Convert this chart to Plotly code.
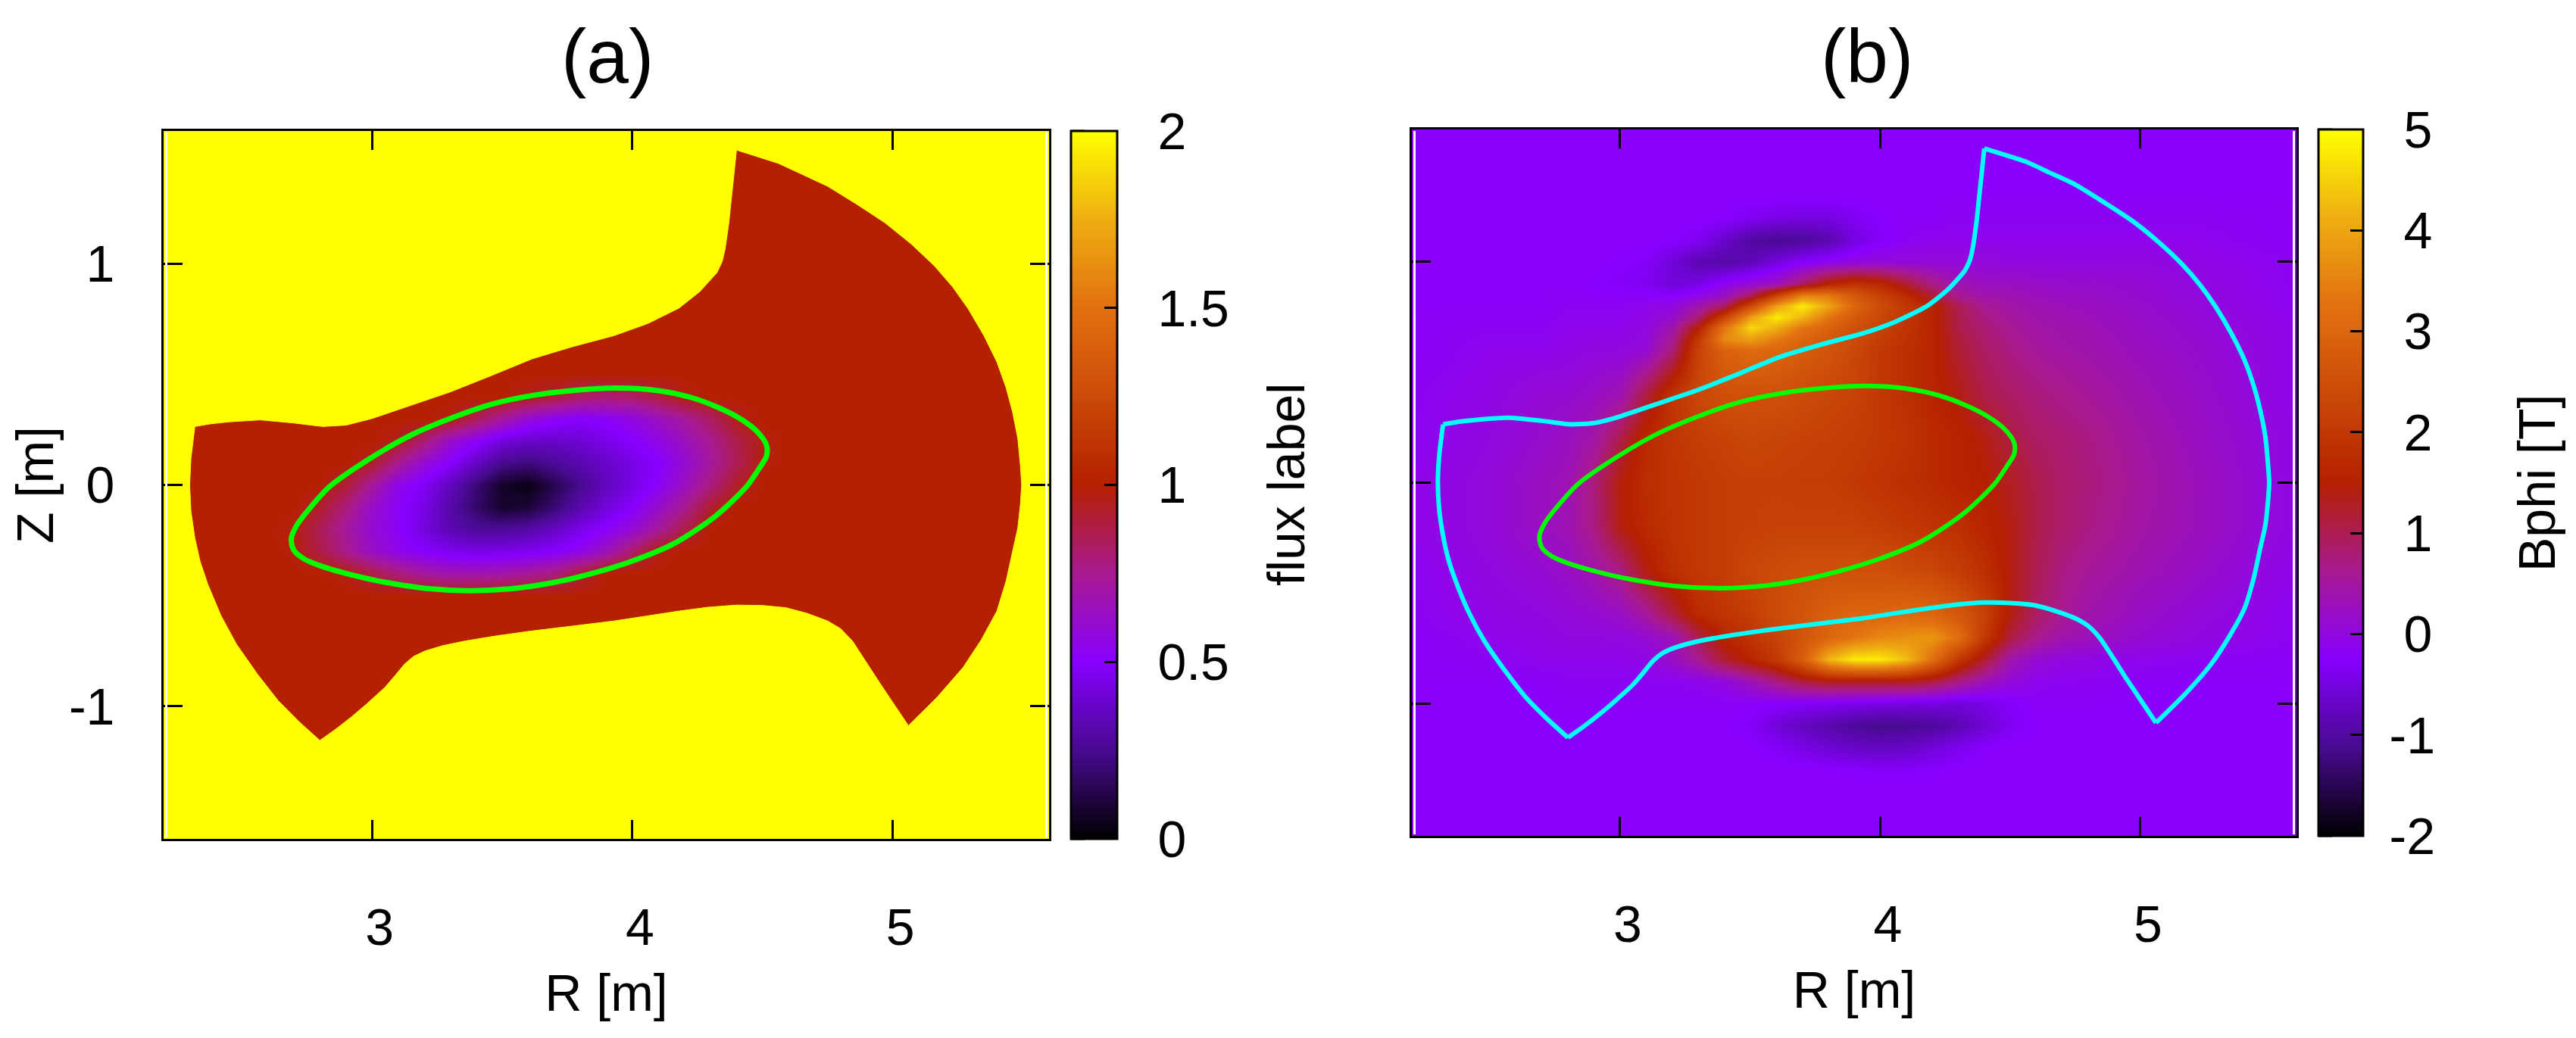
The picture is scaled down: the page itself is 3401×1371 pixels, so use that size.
import plotly.graph_objects as go

W, H = 3401, 1371
PAGE_MARGIN = 8  # default body margin of the written page

R_RANGE = [2.2, 5.6]
Z_RANGE = [-1.6, 1.6]

# flux label, panel (a), rows bottom to top
flux_r = [2.2, 2.6, 2.7, 2.8, 2.9, 3.0, 3.1, 3.2, 3.3, 3.4, 3.5, 3.6, 3.7, 3.8, 3.9,
          4.0, 4.1, 4.2, 4.3, 4.4, 4.5, 4.6, 5.6]
flux_z = [-1.6, -0.5, -0.4, -0.3, -0.2, -0.1, 0, 0.1, 0.2, 0.3, 0.4, 0.5, 1.6]
flux = [
    [1, 1, 1, 1, 1, 1, 1, 1, 1, 1, 1, 1, 1, 1, 1, 1, 1, 1, 1, 1, 1, 1, 1],
    [1, 1, 1, 1, 1, 1, 1, 1, 1, 1, 1, 1, 1, 1, 1, 1, 1, 1, 1, 1, 1, 1, 1],
    [1, 1, 1, 1, .97, .88, .79, .72, .68, .68, .70, .73, .78, .90, 1, 1, 1, 1, 1, 1, 1, 1, 1],
    [1, 1, .98, .88, .75, .63, .55, .50, .46, .44, .45, .47, .50, .55, .66, .82, .97, 1, 1, 1, 1, 1, 1],
    [1, 1, .97, .85, .72, .60, .52, .42, .33, .27, .27, .30, .37, .45, .52, .60, .73, .88, 1, 1, 1, 1, 1],
    [1, 1, 1, .92, .78, .62, .52, .44, .30, .18, .08, .10, .20, .32, .42, .50, .62, .75, .92, 1, 1, 1, 1],
    [1, 1, 1, 1, .90, .72, .55, .47, .35, .20, .07, .03, .14, .25, .35, .44, .52, .65, .78, .93, 1, 1, 1],
    [1, 1, 1, 1, 1, .93, .75, .60, .50, .37, .25, .22, .27, .32, .38, .44, .50, .60, .72, .85, .98, 1, 1],
    [1, 1, 1, 1, 1, 1, .95, .80, .62, .52, .42, .38, .38, .40, .45, .50, .56, .65, .75, .87, .97, 1, 1],
    [1, 1, 1, 1, 1, 1, 1, 1, .97, .85, .72, .60, .53, .50, .52, .57, .65, .73, .83, .95, 1, 1, 1],
    [1, 1, 1, 1, 1, 1, 1, 1, 1, 1, 1, .95, .90, .82, .80, .82, .88, .97, 1, 1, 1, 1, 1],
    [1, 1, 1, 1, 1, 1, 1, 1, 1, 1, 1, 1, 1, 1, 1, 1, 1, 1, 1, 1, 1, 1, 1],
    [1, 1, 1, 1, 1, 1, 1, 1, 1, 1, 1, 1, 1, 1, 1, 1, 1, 1, 1, 1, 1, 1, 1],
]

# Bphi, panel (b), rows bottom to top
bphi_r = [2.2, 2.5, 2.7, 2.8, 2.9, 3.0, 3.1, 3.2, 3.3, 3.4, 3.5, 3.6, 3.7, 3.8, 3.9, 4.0,
          4.1, 4.2, 4.3, 4.4, 4.5, 4.6, 4.7, 4.8, 5.0, 5.2, 5.6]
bphi_z = [-1.6, -1.4, -1.3, -1.2, -1.1, -1.0, -0.9, -0.8, -0.7, -0.6, -0.4, -0.2, 0, 0.2, 0.4,
          0.6, 0.65, 0.7, 0.75, 0.8, 0.85, 0.9, 1.0, 1.1, 1.2, 1.3, 1.4, 1.6]
bphi = [
    [-.2, -.2, -.2, -.2, -.2, -.2, -.2, -.2, -.2, -.2, -.2, -.2, -.2, -.2, -.2, -.2, -.2, -.2, -.2, -.2, -.2, -.2, -.2, -.2, -.2, -.2, -.2],
    [-.2, -.2, -.2, -.2, -.2, -.2, -.2, -.2, -.2, -.2, -.2, -.2, -.2, -.2, -.2, -.2, -.2, -.2, -.2, -.2, -.2, -.2, -.2, -.2, -.2, -.2, -.2],
    [-.2, -.2, -.2, -.2, -.2, -.2, -.2, -.2, -.2, -.2, -.2, -.2, -.2, -.22, -.25, -.28, -.28, -.25, -.2, -.2, -.2, -.2, -.2, -.2, -.2, -.2, -.2],
    [-.2, -.2, -.2, -.2, -.2, -.2, -.2, -.2, -.2, -.2, -.22, -.3, -.45, -.6, -.7, -.75, -.7, -.55, -.4, -.25, -.2, -.2, -.2, -.2, -.2, -.2, -.2],
    [-.2, -.2, -.2, -.2, -.2, -.2, -.2, -.2, -.2, -.22, -.3, -.55, -.75, -.9, -1.05, -1.15, -1.1, -1.05, -.85, -.6, -.35, -.22, -.2, -.2, -.2, -.2, -.2],
    [-.2, -.2, -.2, -.2, -.2, -.2, -.2, -.2, -.2, -.2, -.2, -.25, -.3, -.35, -.4, -.45, -.5, -.5, -.55, -.45, -.3, -.2, -.2, -.2, -.2, -.2, -.2],
    [-.2, -.2, -.2, -.15, -.15, -.15, -.15, -.15, -.1, 0, .3, .7, 1.1, 1.3, 1.3, 1.3, 1.3, 1.1, .7, .3, .05, -.1, -.15, -.15, -.2, -.2, -.2],
    [-.2, -.15, -.1, -.1, -.1, -.1, -.05, .2, .6, 1.2, 1.6, 2.0, 2.8, 4.2, 4.8, 4.8, 4.3, 3.2, 2.0, 1.2, .4, .1, 0, -.05, -.1, -.15, -.2],
    [-.2, -.1, -.05, 0, 0, 0, .1, .3, 1.0, 1.6, 1.9, 2.2, 2.6, 3.0, 3.3, 3.6, 3.7, 3.8, 3.2, 2.0, 1.1, .65, .4, .3, .1, 0, -.15],
    [-.15, -.05, 0, .05, .1, .2, .5, 1.1, 1.7, 1.9, 2.1, 2.4, 2.6, 2.9, 3.0, 3.0, 3.1, 3.0, 2.7, 2.2, 1.4, .9, .6, .4, .2, .05, -.15],
    [-.15, 0, .1, .2, .4, .7, 1.4, 1.8, 2.0, 2.1, 2.3, 2.4, 2.5, 2.5, 2.5, 2.5, 2.4, 2.3, 2.1, 1.8, 1.4, 1.0, .7, .55, .35, .2, -.1],
    [-.1, .05, .25, .35, .7, 1.4, 1.7, 1.9, 2.0, 2.1, 2.15, 2.2, 2.2, 2.2, 2.2, 2.1, 2.0, 1.9, 1.8, 1.6, 1.4, 1.05, .85, .7, .45, .3, -.05],
    [-.1, .05, .25, .35, .75, 1.45, 1.75, 1.9, 2.0, 2.1, 2.15, 2.15, 2.1, 2.1, 2.0, 1.9, 1.8, 1.7, 1.6, 1.5, 1.3, 1.05, .85, .75, .5, .3, -.05],
    [-.15, 0, .15, .25, .45, 1.05, 1.7, 1.95, 2.1, 2.2, 2.3, 2.25, 2.2, 2.15, 2.1, 2.0, 1.9, 1.7, 1.6, 1.4, 1.1, .9, .8, .7, .45, .25, -.05],
    [-.15, -.05, .1, .1, .2, .35, 1.1, 1.9, 2.3, 2.5, 2.5, 2.5, 2.4, 2.3, 2.2, 2.0, 1.8, 1.6, 1.4, 1.05, .9, .75, .65, .55, .35, .2, -.1],
    [-.2, -.1, -.1, -.05, 0, 0, .1, .8, 2.2, 2.9, 3.1, 3.0, 2.8, 2.6, 2.3, 2.0, 1.8, 1.6, 1.2, .9, .7, .55, .45, .4, .25, .15, -.1],
    [-.2, -.12, -.12, -.08, -.05, -.05, .05, .6, 2.0, 3.6, 3.9, 3.4, 3.0, 2.7, 2.4, 2.1, 1.85, 1.6, 1.15, .85, .65, .5, .42, .38, .22, .12, -.1],
    [-.2, -.15, -.15, -.1, -.1, -.1, 0, .4, 1.5, 3.3, 4.6, 4.1, 3.3, 2.9, 2.5, 2.2, 1.9, 1.6, 1.05, .8, .6, .45, .4, .35, .2, .1, -.1],
    [-.2, -.18, -.18, -.12, -.12, -.12, -.05, .15, .8, 2.2, 3.9, 4.8, 4.2, 3.3, 2.7, 2.3, 1.95, 1.6, 1.05, .7, .52, .4, .35, .3, .18, .08, -.12],
    [-.2, -.2, -.2, -.15, -.15, -.15, -.1, 0, .4, .9, 2.4, 3.9, 4.8, 4.0, 3.0, 2.4, 2.0, 1.6, 1.0, .6, .45, .35, .3, .25, .15, .05, -.15],
    [-.2, -.2, -.2, -.18, -.2, -.2, -.2, -.25, -.05, .2, .9, 2.2, 3.5, 3.4, 2.7, 2.2, 1.7, 1.15, .6, .4, .35, .28, .22, .2, .12, .02, -.15],
    [-.2, -.2, -.2, -.2, -.25, -.3, -.35, -.55, -.45, -.1, .1, .3, .9, 1.6, 1.9, 1.7, 1.2, .7, .35, .25, .25, .2, .15, .15, .1, 0, -.15],
    [-.2, -.2, -.2, -.2, -.2, -.25, -.3, -.55, -.85, -.95, -.8, -.5, -.25, -.1, 0, .05, .05, .05, .05, .05, 0, 0, 0, 0, 0, -.05, -.15],
    [-.2, -.2, -.2, -.2, -.2, -.2, -.2, -.25, -.35, -.65, -1.0, -1.1, -1.05, -.9, -.5, -.3, -.15, -.1, -.1, -.1, -.1, -.1, -.1, -.1, -.1, -.1, -.2],
    [-.2, -.2, -.2, -.2, -.2, -.2, -.2, -.2, -.2, -.25, -.35, -.45, -.5, -.5, -.35, -.25, -.2, -.2, -.15, -.15, -.15, -.15, -.15, -.15, -.15, -.15, -.2],
    [-.2, -.2, -.2, -.2, -.2, -.2, -.2, -.2, -.2, -.2, -.2, -.2, -.2, -.2, -.2, -.2, -.2, -.2, -.2, -.2, -.2, -.2, -.2, -.2, -.2, -.2, -.2],
    [-.2, -.2, -.2, -.2, -.2, -.2, -.2, -.2, -.2, -.2, -.2, -.2, -.2, -.2, -.2, -.2, -.2, -.2, -.2, -.2, -.2, -.2, -.2, -.2, -.2, -.2, -.2],
    [-.2, -.2, -.2, -.2, -.2, -.2, -.2, -.2, -.2, -.2, -.2, -.2, -.2, -.2, -.2, -.2, -.2, -.2, -.2, -.2, -.2, -.2, -.2, -.2, -.2, -.2, -.2],
]

# last closed flux surface (green)
sep_r = [2.69, 2.71, 2.765, 2.84, 3.0, 3.15, 3.30, 3.46, 3.62, 3.78, 3.94, 4.09, 4.22, 4.33, 4.42, 4.48, 4.515,
         4.515, 4.49, 4.44, 4.32, 4.16, 4.0, 3.84, 3.68, 3.53, 3.37, 3.21, 3.05, 2.90, 2.80, 2.74, 2.70, 2.69]
sep_z = [-.245, -.185, -.10, -.005, .125, .225, .30, .365, .405, .428, .438, .428, .397, .35, .295, .24, .18,
         .13, .08, -.005, -.14, -.265, -.344, -.402, -.445, -.47, -.478, -.468, -.44, -.40, -.365, -.335, -.295, -.245]

# wall contour, clockwise from the top tip
wall_r = [4.40, 4.48, 4.56, 4.65, 4.75, 4.86, 4.97, 5.07, 5.16, 5.23, 5.29, 5.35, 5.40, 5.435, 5.46, 5.48, 5.49,
          5.495, 5.49, 5.48, 5.46, 5.435, 5.40, 5.34, 5.27, 5.17, 5.06,
          4.95, 4.845, 4.80, 4.75, 4.67, 4.59, 4.50, 4.40, 4.29, 4.18, 4.05, 3.93, 3.77, 3.615, 3.48, 3.36, 3.27,
          3.205, 3.16, 3.125, 3.09, 3.05, 2.98, 2.92, 2.86, 2.80,
          2.72, 2.64, 2.56, 2.48, 2.42, 2.37, 2.34, 2.32, 2.305, 2.30, 2.305, 2.32,
          2.38, 2.45, 2.57, 2.70, 2.81, 2.90, 3.00, 3.15, 3.30, 3.46, 3.615, 3.77, 3.93, 4.06, 4.18, 4.26, 4.325,
          4.345, 4.356, 4.37, 4.38, 4.39, 4.40]
wall_z = [1.514, 1.485, 1.454, 1.405, 1.35, 1.27, 1.185, 1.09, .99, .895, .795, .675, .555, .44, .33, .21, .09,
          0, -.09, -.195, -.30, -.435, -.57, -.70, -.825, -.96, -1.088,
          -.895, -.705, -.65, -.615, -.58, -.555, -.545, -.543, -.553, -.57, -.593, -.615, -.638, -.66, -.682, -.705, -.727,
          -.75, -.775, -.81, -.86, -.915, -.99, -1.05, -1.105, -1.155,
          -1.07, -.975, -.855, -.72, -.59, -.45, -.345, -.24, -.12, 0, .12, .264,
          .276, .285, .294, .28, .264, .27, .30, .36, .42, .495, .57, .625, .675, .73, .80, .875, .96,
          1.01, 1.065, 1.18, 1.29, 1.40, 1.514]
# where the wall contour has a sharp corner
wall_corners = [0, 26, 52, 64, len(wall_r) - 1]

NB = '\u00a0'
flux_ticks = [0, 0.5, 1, 1.5, 2]
flux_labels = [NB * 2 + s for s in ['0', '0.5', '1', '1.5', '2']]
bphi_ticks = [-2, -1, 0, 1, 2, 3, 4, 5]
bphi_labels = [NB + s for s in ['-2', '-1', NB + '0', NB + '1', NB + '2', NB + '3', NB + '4', NB + '5']]

palette = [[0, '#000000'], [0.125, '#480a90'], [0.25, '#8800ff'], [0.375, '#a81a90'],
           [0.5, '#b52000'], [0.625, '#cc4a08'], [0.75, '#e27010'], [0.875, '#efae12'], [1, '#ffff00']]

FONT = 'Liberation Sans'
TICK_SIZE = 68

# pixel boxes of the two panels
box_a = dict(x0=216, x1=1385, y0=173, y1=1108)
box_b = dict(x0=1864, x1=3032, y0=171, y1=1104)
cbar_a = dict(x0=1414, x1=1475)
cbar_b = dict(x0=3061, x1=3120)

FIG_W = W - 2 * PAGE_MARGIN
FIG_H = H - 2 * PAGE_MARGIN


def px(x):
    return (x - PAGE_MARGIN) / FIG_W


def py(y):
    return 1 - (y - PAGE_MARGIN) / FIG_H


def colorbar(box, cb, ticks, labels):
    return dict(
        x=px(cb['x0']), xanchor='left', xpad=0, ypad=0,
        y=py(box['y1']), yanchor='bottom', len=(box['y1'] - box['y0']) / FIG_H,
        thickness=cb['x1'] - cb['x0'], outlinewidth=3, outlinecolor='black',
        tickmode='array', tickvals=ticks, ticktext=labels,
        ticks='inside', ticklen=18, tickwidth=3, tickcolor='black',
        tickfont=dict(family=FONT, size=TICK_SIZE, color='black'),
    )


fig = go.Figure()

fig.add_trace(go.Heatmap(
    x=flux_r, y=flux_z, z=flux, zmin=0, zmax=2, zsmooth='best', colorscale=palette,
    xaxis='x', yaxis='y', colorbar=colorbar(box_a, cbar_a, flux_ticks, flux_labels),
))
# yellow outside the wall, as a frame with the wall contour cut out
fig.add_trace(go.Scatter(
    x=[wall_r[0], R_RANGE[0], R_RANGE[0], R_RANGE[1], R_RANGE[1], wall_r[0]] + wall_r + [wall_r[0]],
    y=[Z_RANGE[1], Z_RANGE[1], Z_RANGE[0], Z_RANGE[0], Z_RANGE[1], Z_RANGE[1]] + wall_z + [Z_RANGE[1]],
    mode='lines', fill='toself', fillcolor='#ffff00', line=dict(color='#ffff00', width=1),
    xaxis='x', yaxis='y', showlegend=False, hoverinfo='skip',
))
fig.add_trace(go.Scatter(
    x=sep_r, y=sep_z, mode='lines', line=dict(color='#00ff00', width=7, shape='spline', smoothing=0.8),
    xaxis='x', yaxis='y', showlegend=False,
))

fig.add_trace(go.Heatmap(
    x=bphi_r, y=bphi_z, z=bphi, zmin=-2, zmax=5, zsmooth='best', colorscale=palette,
    xaxis='x2', yaxis='y2', colorbar=colorbar(box_b, cbar_b, bphi_ticks, bphi_labels),
))
# one trace per limb so the corners stay sharp
for start, end in zip(wall_corners, wall_corners[1:]):
    fig.add_trace(go.Scatter(
        x=wall_r[start:end + 1], y=wall_z[start:end + 1], mode='lines',
        line=dict(color='#00ffff', width=6, shape='spline', smoothing=0.6),
        xaxis='x2', yaxis='y2', showlegend=False,
    ))
fig.add_trace(go.Scatter(
    x=sep_r, y=sep_z, mode='lines', line=dict(color='#00ff00', width=6, shape='spline', smoothing=0.8),
    xaxis='x2', yaxis='y2', showlegend=False,
))

x_common = dict(
    range=R_RANGE, tickvals=[3, 4, 5], ticks='inside', ticklen=25, tickwidth=3, tickcolor='black',
    showline=True, linecolor='black', linewidth=3, mirror='allticks', showgrid=False, zeroline=False,
    tickfont=dict(family=FONT, size=TICK_SIZE, color='black'),
    ticklabelstandoff=55, ticklabelshift=10,
    title=dict(text='R [m]', font=dict(family=FONT, size=TICK_SIZE, color='black'), standoff=27),
)
y_common = dict(
    range=Z_RANGE, tickvals=[-1, 0, 1], ticktext=['-1', '0', '1'], ticks='inside', ticklen=25, tickwidth=3,
    tickcolor='black', showline=True, linecolor='black', linewidth=3, mirror='allticks',
    showgrid=False, zeroline=False, tickfont=dict(family=FONT, size=TICK_SIZE, color='black'),
)

fig.update_layout(
    width=FIG_W, height=FIG_H, margin=dict(l=0, r=0, t=0, b=0),
    paper_bgcolor='white', plot_bgcolor='white', showlegend=False,
    xaxis=dict(domain=[px(box_a['x0']), px(box_a['x1'])], anchor='y', **x_common),
    yaxis=dict(domain=[py(box_a['y1']), py(box_a['y0'])], anchor='x', ticklabelstandoff=48,
               title=dict(text='Z [m]', font=dict(family=FONT, size=TICK_SIZE, color='black'), standoff=20),
               **y_common),
    xaxis2=dict(domain=[px(box_b['x0']), px(box_b['x1'])], anchor='y2', **x_common),
    yaxis2=dict(domain=[py(box_b['y1']), py(box_b['y0'])], anchor='x2', showticklabels=False, **y_common),
)

for text, x, y, size, angle in [('(a)', 802, 74, 100, 0), ('(b)', 2465, 74, 100, 0),
                                ('flux label', 1698, 640, TICK_SIZE, -90), ('Bphi [T]', 3349, 638, TICK_SIZE, -90)]:
    fig.add_annotation(text=text, x=px(x), y=py(y), xref='paper', yref='paper', xanchor='center', yanchor='middle',
                       showarrow=False, textangle=angle, font=dict(family=FONT, size=size, color='black'))

# gnuplot draws the colorbar ticks from both sides
for box, cb, ticks, lo, hi in [(box_a, cbar_a, flux_ticks, 0, 2), (box_b, cbar_b, bphi_ticks, -2, 5)]:
    for t in ticks:
        y = box['y1'] + (box['y0'] - box['y1']) * (t - lo) / (hi - lo)
        fig.add_shape(type='line', xref='paper', yref='paper', x0=px(cb['x0']), x1=px(cb['x0'] + 18),
                      y0=py(y), y1=py(y), line=dict(color='black', width=3))

# thin white slivers between the image and the frame
for box in [box_a, box_b]:
    for x0, x1 in [(box['x0'] + 2, box['x0'] + 5), (box['x1'] - 5, box['x1'] - 2)]:
        fig.add_shape(type='rect', xref='paper', yref='paper', x0=px(x0), x1=px(x1),
                      y0=py(box['y1'] - 2), y1=py(box['y0'] + 2), line_width=0, fillcolor='white')

fig.write_html("out.html")
